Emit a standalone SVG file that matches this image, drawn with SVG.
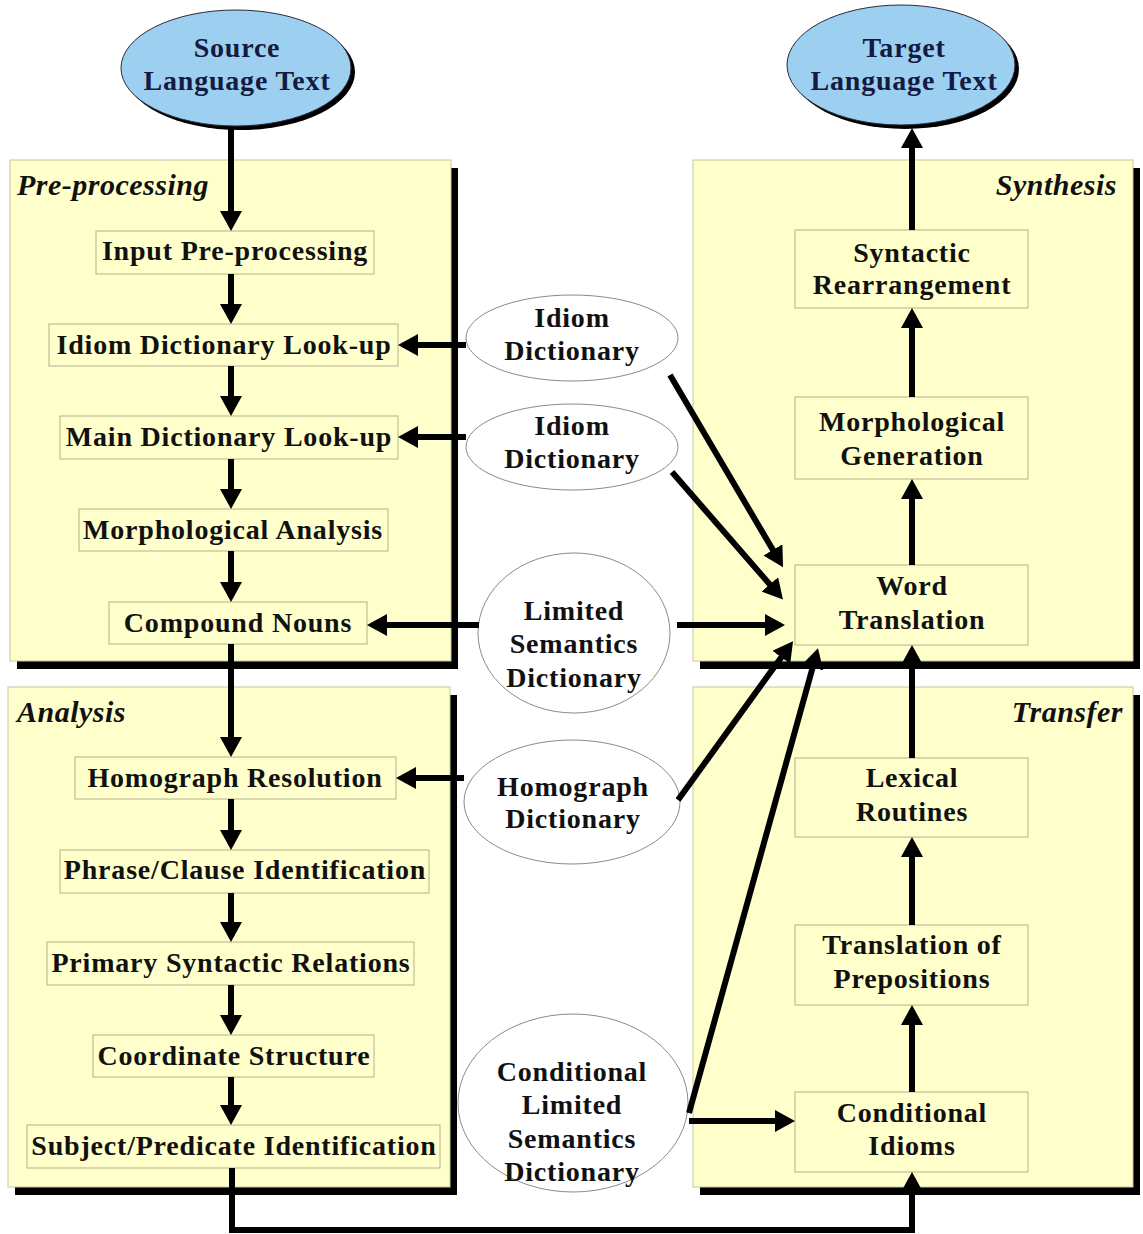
<svg xmlns="http://www.w3.org/2000/svg" width="1143" height="1234" viewBox="0 0 1143 1234">
  <style>
    text { font-family: "Liberation Serif", "Times New Roman", serif; font-weight: bold; font-size: 28px; fill: #111; text-anchor: middle; letter-spacing: 0.8px; }
    .title { font-style: italic; font-size: 30px; letter-spacing: 0.5px; }
    .blue text, text.navy { fill: #141a40; }
    .panel { fill: #ffffcc; stroke: #c8c6a0; stroke-width: 1; }
    .shadow { fill: #000; }
    .box { fill: #ffffcc; stroke: #b4b08c; stroke-width: 1; }
    .dict { fill: #fff; stroke: #8a8a8a; stroke-width: 1; }
    .terminal { fill: #9dcff0; stroke: #2a2a3a; stroke-width: 1; }
    .conn { fill: none; stroke: #000; stroke-width: 6; }
    .arrow { marker-end: url(#ah); }
  </style>
  <defs>
    <marker id="ah" markerUnits="userSpaceOnUse" markerWidth="20" markerHeight="22" viewBox="0 0 20 22" refX="14" refY="11" orient="auto">
      <path d="M0,0 L20,11 L0,22 z" fill="#000"/>
    </marker>
  </defs>

  <rect width="1143" height="1234" fill="#fff"/>

  <!-- stage panels with drop shadows -->
  <g id="panel-preprocessing">
    <rect class="shadow" x="17" y="168" width="441" height="501"/>
    <rect class="panel" x="10" y="160" width="441" height="501"/>
    <text class="title" x="17" y="195" style="text-anchor:start">Pre-processing</text>
  </g>
  <g id="panel-analysis">
    <rect class="shadow" x="15" y="695" width="442" height="500"/>
    <rect class="panel" x="8" y="687" width="442" height="500"/>
    <text class="title" x="17" y="722" style="text-anchor:start">Analysis</text>
  </g>
  <g id="panel-synthesis">
    <rect class="shadow" x="700" y="168" width="440" height="501"/>
    <rect class="panel" x="693" y="160" width="440" height="501"/>
    <text class="title" x="1117" y="195" style="text-anchor:end">Synthesis</text>
  </g>
  <g id="panel-transfer">
    <rect class="shadow" x="700" y="695" width="440" height="500"/>
    <rect class="panel" x="693" y="687" width="440" height="500"/>
    <text class="title" x="1123" y="722" style="text-anchor:end">Transfer</text>
  </g>

  <!-- source / target terminals -->
  <g id="source" class="blue">
    <ellipse cx="240" cy="72" rx="115" ry="58" fill="#000"/>
    <ellipse class="terminal" cx="236" cy="68" rx="115" ry="58"/>
    <text x="237" y="57">Source</text>
    <text x="237" y="90">Language Text</text>
  </g>
  <g id="target" class="blue">
    <ellipse cx="905" cy="69" rx="114" ry="60" fill="#000"/>
    <ellipse class="terminal" cx="901" cy="65" rx="114" ry="60"/>
    <text x="904" y="57">Target</text>
    <text x="904" y="90">Language Text</text>
  </g>

  <!-- pre-processing steps -->
  <g id="input-preprocessing"><rect class="box" x="96" y="231" width="278" height="43"/><text x="235" y="260">Input Pre-processing</text></g>
  <g id="idiom-lookup"><rect class="box" x="49" y="324" width="349" height="42"/><text x="224" y="354">Idiom Dictionary Look-up</text></g>
  <g id="main-lookup"><rect class="box" x="60" y="416" width="338" height="43"/><text x="229" y="446">Main Dictionary Look-up</text></g>
  <g id="morph-analysis"><rect class="box" x="79" y="509" width="309" height="42"/><text x="233" y="539">Morphological Analysis</text></g>
  <g id="compound-nouns"><rect class="box" x="109" y="602" width="258" height="42"/><text x="238" y="632">Compound Nouns</text></g>

  <!-- analysis steps -->
  <g id="homograph-resolution"><rect class="box" x="75" y="757" width="321" height="42"/><text x="235" y="787">Homograph Resolution</text></g>
  <g id="phrase-clause"><rect class="box" x="60" y="850" width="369" height="43"/><text x="245" y="879">Phrase/Clause Identification</text></g>
  <g id="primary-syntactic"><rect class="box" x="47" y="942" width="367" height="43"/><text x="231" y="972">Primary Syntactic Relations</text></g>
  <g id="coordinate-structure"><rect class="box" x="93" y="1035" width="281" height="42"/><text x="234" y="1065">Coordinate Structure</text></g>
  <g id="subject-predicate"><rect class="box" x="27" y="1125" width="413" height="43"/><text x="234" y="1155">Subject/Predicate Identification</text></g>

  <!-- synthesis steps -->
  <g id="syntactic-rearrangement"><rect class="box" x="795" y="230" width="233" height="78"/><text x="912" y="262">Syntactic</text><text x="912" y="294">Rearrangement</text></g>
  <g id="morph-generation"><rect class="box" x="795" y="397" width="233" height="82"/><text x="912" y="431">Morphological</text><text x="912" y="465">Generation</text></g>
  <g id="word-translation"><rect class="box" x="795" y="565" width="233" height="80"/><text x="912" y="595">Word</text><text x="912" y="629">Translation</text></g>

  <!-- transfer steps -->
  <g id="lexical-routines"><rect class="box" x="795" y="758" width="233" height="79"/><text x="912" y="787">Lexical</text><text x="912" y="821">Routines</text></g>
  <g id="translation-prepositions"><rect class="box" x="795" y="925" width="233" height="80"/><text x="912" y="954">Translation of</text><text x="912" y="988">Prepositions</text></g>
  <g id="conditional-idioms"><rect class="box" x="795" y="1092" width="233" height="80"/><text x="912" y="1122">Conditional</text><text x="912" y="1155">Idioms</text></g>

  <!-- dictionaries -->
  <g id="idiom-dictionary-1"><ellipse class="dict" cx="572" cy="338" rx="106" ry="43"/><text x="572" y="327">Idiom</text><text x="572" y="360">Dictionary</text></g>
  <g id="idiom-dictionary-2"><ellipse class="dict" cx="572" cy="447" rx="106" ry="43"/><text x="572" y="435">Idiom</text><text x="572" y="468">Dictionary</text></g>
  <g id="limited-semantics"><ellipse class="dict" cx="574" cy="633" rx="96" ry="80"/><text x="574" y="620">Limited</text><text x="574" y="653">Semantics</text><text x="574" y="687">Dictionary</text></g>
  <g id="homograph-dictionary"><ellipse class="dict" cx="572" cy="802" rx="108" ry="62"/><text x="573" y="796">Homograph</text><text x="573" y="828">Dictionary</text></g>
  <g id="conditional-semantics"><ellipse class="dict" cx="573" cy="1103" rx="115" ry="89"/><text x="572" y="1081">Conditional</text><text x="572" y="1114">Limited</text><text x="572" y="1148">Semantics</text><text x="572" y="1181">Dictionary</text></g>

  <!-- connectors -->
  <g id="connectors" class="conn">
    <!-- main pipeline down the left column -->
    <line class="arrow" x1="231" y1="127" x2="231" y2="225"/>
    <line class="arrow" x1="231" y1="274" x2="231" y2="318"/>
    <line class="arrow" x1="231" y1="366" x2="231" y2="410"/>
    <line class="arrow" x1="231" y1="459" x2="231" y2="503"/>
    <line class="arrow" x1="231" y1="551" x2="231" y2="596"/>
    <line class="arrow" x1="231" y1="644" x2="231" y2="751"/>
    <line class="arrow" x1="231" y1="799" x2="231" y2="844"/>
    <line class="arrow" x1="231" y1="893" x2="231" y2="936"/>
    <line class="arrow" x1="231" y1="985" x2="231" y2="1029"/>
    <line class="arrow" x1="231" y1="1077" x2="231" y2="1119"/>
    <!-- analysis result handed to transfer -->
    <polyline class="arrow" points="232,1168 232,1230 912,1230 912,1178"/>
    <!-- right column, upward -->
    <line class="arrow" x1="912" y1="1092" x2="912" y2="1011"/>
    <line class="arrow" x1="912" y1="925" x2="912" y2="843"/>
    <line class="arrow" x1="912" y1="758" x2="912" y2="651"/>
    <line class="arrow" x1="912" y1="565" x2="912" y2="485"/>
    <line class="arrow" x1="912" y1="397" x2="912" y2="314"/>
    <line class="arrow" x1="912" y1="230" x2="912" y2="134"/>
    <!-- dictionaries feeding the analysis steps -->
    <line class="arrow" x1="466" y1="345" x2="404" y2="345"/>
    <line class="arrow" x1="466" y1="437" x2="404" y2="437"/>
    <line class="arrow" x1="479" y1="625" x2="373" y2="625"/>
    <line class="arrow" x1="464" y1="778" x2="402" y2="778"/>
    <!-- dictionaries feeding word translation -->
    <line class="arrow" x1="670" y1="375" x2="780" y2="562"/>
    <line class="arrow" x1="672" y1="472" x2="779" y2="595"/>
    <line class="arrow" x1="677" y1="625" x2="779" y2="625"/>
    <line class="arrow" x1="678" y1="800" x2="789.5" y2="646"/>
    <line class="arrow" x1="689" y1="1113" x2="816.4" y2="654"/>
    <line class="arrow" x1="689" y1="1121" x2="789" y2="1121"/>
  </g>
</svg>
